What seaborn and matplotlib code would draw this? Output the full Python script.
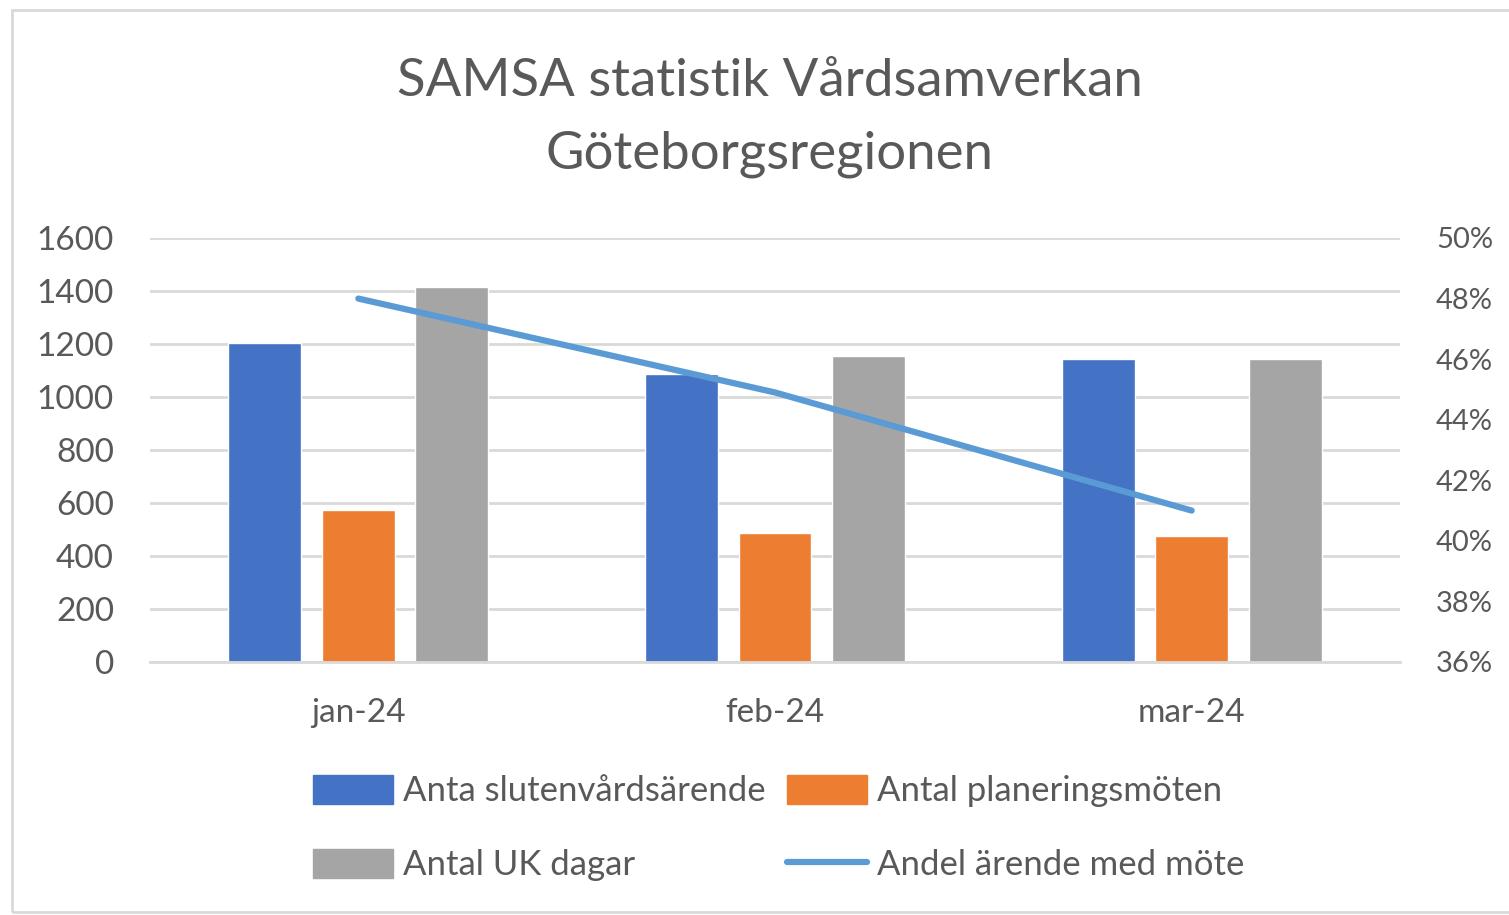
import matplotlib
matplotlib.use("Agg")
import matplotlib.pyplot as plt
from matplotlib.patches import Rectangle, Patch
from matplotlib.lines import Line2D
from matplotlib.ticker import PercentFormatter
import numpy as np
import pandas as pd
import seaborn as sns

months = ["jan-24", "feb-24", "mar-24"]
slutenvard = [1205, 1085, 1145]
planeringsmoten = [575, 485, 475]
uk_dagar = [1415, 1155, 1145]
andel_mote = [48.0, 44.9, 41.0]

series_names = ["Anta slutenvårdsärende", "Antal planeringsmöten", "Antal UK dagar"]
line_name = "Andel ärende med möte"
colors = ["#4472C4", "#ED7D31", "#A5A5A5"]
line_color = "#5B9BD5"
text_color = "#595959"

sns.set_theme(style="white")
plt.rcParams["font.family"] = ["Lato", "DejaVu Sans"]

df = pd.DataFrame({
    "month": months * 3,
    "value": slutenvard + planeringsmoten + uk_dagar,
    "serie": [n for n in series_names for _ in months],
})

fig = plt.figure(figsize=(15.09, 9.15), dpi=100)
ax = fig.add_axes([150 / 1509, 1 - 662 / 915, 1250 / 1509, 424 / 915])

sns.barplot(data=df, x="month", y="value", hue="serie", palette=colors,
            width=0.673, gap=0.22, saturation=1, legend=False, ax=ax)

ax.set_ylim(0, 1600)
ax.set_yticks(np.arange(0, 1601, 200))
ax.set_xlim(-0.5, 2.5)
ax.set_xlabel("")
ax.set_ylabel("")
ax.yaxis.grid(True, color="#D9D9D9", linewidth=2)
ax.set_axisbelow(True)
for side in ["top", "right", "left"]:
    ax.spines[side].set_visible(False)
ax.spines["bottom"].set_color("#D9D9D9")
ax.spines["bottom"].set_linewidth(2)
ax.tick_params(axis="y", length=0, labelsize=24, labelcolor=text_color, pad=26)
ax.tick_params(axis="x", length=0, labelsize=24, labelcolor=text_color, pad=26)
ax.set_xticks(range(len(months)), months)
# category boundary ticks
ax.set_xticks([-0.5, 0.5, 1.5, 2.5], minor=True)
ax.tick_params(axis="x", which="minor", length=10, width=2, color="#D9D9D9", direction="out")

ax2 = ax.twinx()
sns.lineplot(x=list(range(len(months))), y=andel_mote, color=line_color,
             linewidth=4.5, ax=ax2)
ax2.set_ylim(36, 50)
ax2.set_yticks(np.arange(36, 50.1, 2))
ax2.yaxis.set_major_formatter(PercentFormatter(decimals=0))
ax2.tick_params(axis="y", length=0, labelsize=21, labelcolor=text_color, pad=26)
ax2.grid(False)
for side in ["top", "right", "left", "bottom"]:
    ax2.spines[side].set_visible(False)
ax2.set_xlim(-0.5, 2.5)

fig.text(0.51, 1 - 82 / 915, "SAMSA statistik Vårdsamverkan", ha="center", va="center",
         fontsize=38, color=text_color)
fig.text(0.51, 1 - 154 / 915, "Göteborgsregionen", ha="center", va="center",
         fontsize=38, color=text_color)

handles = [
    Patch(color=colors[0], label=series_names[0]),
    Patch(color=colors[2], label=series_names[2]),
    Patch(color=colors[1], label=series_names[1]),
    Line2D([0], [0], color=line_color, linewidth=4.5, label=line_name),
]
fig.legend(handles=handles, ncol=2, loc="center", bbox_to_anchor=(0.516, 1 - 828 / 915),
           frameon=False, fontsize=25, labelcolor=text_color, handlelength=2.3,
           handleheight=0.9, handletextpad=0.3, columnspacing=0.6, labelspacing=1.2)

fig.patches.append(Rectangle((12 / 1509, 3 / 915), 1.1, 1 - 13 / 915, transform=fig.transFigure,
                             fill=False, edgecolor="#D9D9D9", linewidth=2))

fig.savefig("out.png", dpi=100)
